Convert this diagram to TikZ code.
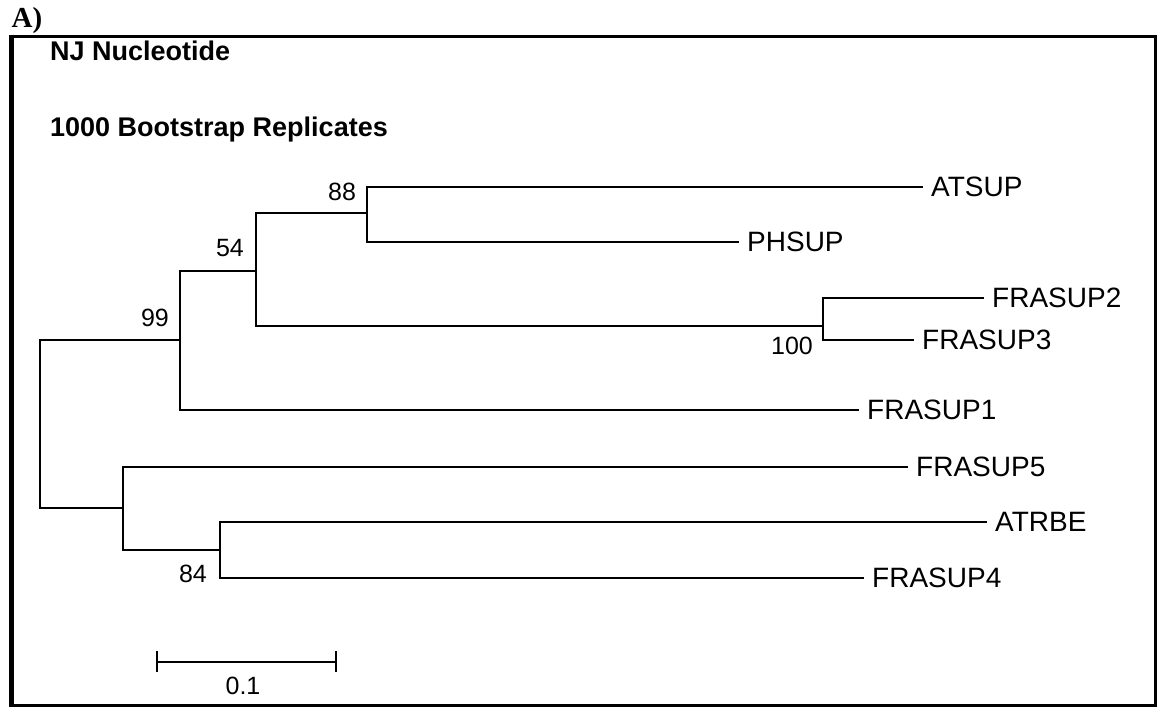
\documentclass[tikz,border=0pt]{standalone}
\usepackage{fontspec}
\setmainfont{Liberation Sans}
\newfontfamily\serifbold{Liberation Serif}
\begin{document}
\begin{tikzpicture}[x=1pt,y=-1pt,
  branch/.style={line width=2.6pt, line cap=rect},
  tip/.style={anchor=west, inner xsep=9pt, inner ysep=0pt, font=\fontsize{28}{30}\selectfont},
  boot/.style={inner sep=0pt, font=\fontsize{25}{27}\selectfont},
  title/.style={anchor=west, inner sep=0pt, font=\fontsize{27}{30}\selectfont\bfseries}]
\useasboundingbox (0,0) rectangle (1159,707);
% frame
\draw[line width=3pt] (11,36) rectangle (1155,705);
\draw[line width=5pt] (11,34.5) -- (11,706.5);
\node[inner sep=0pt, font=\fontsize{29}{30}\serifbold\bfseries] (lab) at (27,21) {A)};
\node[title] (t1) at (50,51) {NJ Nucleotide};
\node[title] (t2) at (50,130) {1000 Bootstrap Replicates};
% internal node coordinates
\coordinate (r1) at (40,340);
\coordinate (r2) at (40,508);
\coordinate (a1) at (180,271);
\coordinate (a2) at (180,410);
\coordinate (b1) at (256,213);
\coordinate (b2) at (256,326);
\coordinate (c1) at (367,187);
\coordinate (c2) at (367,242);
\coordinate (d1) at (823,298);
\coordinate (d2) at (823,340);
\coordinate (e1) at (123,467);
\coordinate (e2) at (123,550);
\coordinate (f1) at (220,522);
\coordinate (f2) at (220,578);
% tips
\node[tip] (atsup) at (922,187) {ATSUP};
\node[tip] (phsup) at (738,242) {PHSUP};
\node[tip] (fra2) at (983,298) {FRASUP2};
\node[tip] (fra3) at (913,340) {FRASUP3};
\node[tip] (fra1) at (858,410) {FRASUP1};
\node[tip] (fra5) at (907,467) {FRASUP5};
\node[tip] (atrbe) at (986,522) {ATRBE};
\node[tip] (fra4) at (863,578) {FRASUP4};
% branches
\draw[branch] (r1) -- (r2);
\draw[branch] (r1) -- (a1 |- r1) -- (a1) -- (a2);
\draw[branch] (a1) -- (b1 |- a1) -- (b1) -- (b2);
\draw[branch] (b1) -- (c1 |- b1) -- (c1) -- (c2);
\draw[branch] (c1) -- (atsup.west);
\draw[branch] (c2) -- (phsup.west);
\draw[branch] (b2) -- (d1 |- b2) -- (d1) -- (d2);
\draw[branch] (d1) -- (fra2.west);
\draw[branch] (d2) -- (fra3.west);
\draw[branch] (a2) -- (fra1.west);
\draw[branch] (r2) -- (e1 |- r2) -- (e1) -- (e2);
\draw[branch] (e1) -- (fra5.west);
\draw[branch] (e2) -- (f1 |- e2) -- (f1) -- (f2);
\draw[branch] (f1) -- (atrbe.west);
\draw[branch] (f2) -- (fra4.west);
% bootstrap values
\node[boot] (bs88) at (342,192) {88};
\node[boot] (bs54) at (230,248) {54};
\node[boot] (bs99) at (155,318) {99};
\node[boot] (bs100) at (792,346) {100};
\node[boot] (bs84) at (193,574) {84};
% scale bar
\coordinate (s1) at (157,662);
\coordinate (s2) at (336,662);
\draw[branch, line cap=butt] (s1) -- (s2);
\draw[branch, line cap=butt] ([yshift=-10]s1) -- ([yshift=11]s1);
\draw[branch, line cap=butt] ([yshift=-10]s2) -- ([yshift=11]s2);
\node[boot] (sc) at (243,686) {0.1};
\end{tikzpicture}
\end{document}
